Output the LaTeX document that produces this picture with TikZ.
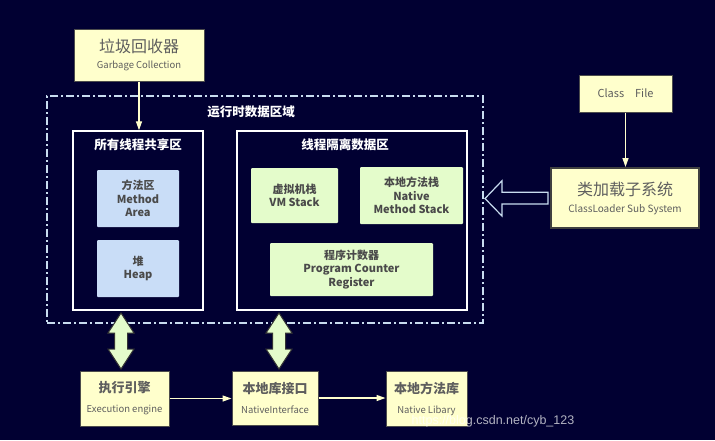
\documentclass[tikz,border=0pt]{standalone}
\usepackage{fontspec}
\setmainfont{Noto Sans CJK SC}
\newfontfamily\wmfont{Liberation Sans}
\usetikzlibrary{arrows.meta,calc}
\definecolor{bg}{RGB}{1,0,50}
\definecolor{yfill}{HTML}{FFFFCC}
\definecolor{bfill}{HTML}{C9DDF7}
\definecolor{gfill}{HTML}{E4FCCB}
\definecolor{txtgray}{HTML}{5E5E5E}
\definecolor{dkgray}{HTML}{4A4A4A}
\definecolor{dashblue}{HTML}{C8DCF0}
\definecolor{lineyel}{HTML}{FFFFCC}
\newcommand\dblvarrow[1]{%
  \draw[dblarrow] (#1) -- ++(13,20) -- ++(-6.5,0) -- ++(0,16) -- ++(6.5,0)
    -- ++(-13,20) -- ++(-13,-20) -- ++(6.5,0) -- ++(0,-16) -- ++(-6.5,0) -- cycle;}
\begin{document}
\begin{tikzpicture}[x=1pt,y=-1pt,
  ybox/.style={draw=black!70, line width=1pt, fill=yfill, inner sep=0pt, align=center, text=txtgray},
  region/.style={draw=white, line width=1.4pt, inner sep=0pt},
  bbox/.style={fill=bfill, rounded corners=1pt, inner sep=0pt, align=center, text=dkgray,
    font=\bfseries\fontsize{11}{13.5}\selectfont},
  gbox/.style={bbox, fill=gfill},
  rtitle/.style={text=white, font=\bfseries\fontsize{12.5}{14}\selectfont, inner sep=0pt},
  conn/.style={draw=lineyel, line width=1.3pt, -{Triangle[length=9pt,width=6pt,fill=lineyel]}},
  dblarrow/.style={fill=gfill, draw=black!80, line width=1pt},
  hollow/.style={fill=bg, draw=dashblue, line width=1.2pt, line join=miter},
]
\fill[bg] (0,0) rectangle (715,440);
\useasboundingbox (0,0) rectangle (715,440);

% runtime data area (dash-dot)
\node[draw=dashblue, line width=1.4pt, dash pattern=on 8pt off 3pt on 2pt off 3pt,
  minimum width=436pt, minimum height=227pt, inner sep=0pt] (rt) at (265,209.5) {};
\node[rtitle] (rttitle) at (251,112) {运行时数据区域};

% garbage collection
\node[ybox, minimum width=130pt, minimum height=52pt] (gc) at (139,55)
  {{\fontsize{16}{19}\selectfont 垃圾回收器}\\[4pt]{\fontsize{9.5}{11}\selectfont Garbage Collection}};

% shared area
\node[region, minimum width=130pt, minimum height=179pt] (shared) at (138,220.5) {};
\node[rtitle] (sharedtitle) at (138,145) {所有线程共享区};
\node[bbox, minimum width=82pt, minimum height=57pt] (method) at (138,198.5) {方法区\\Method\\Area};
\node[bbox, minimum width=82pt, minimum height=57pt] (heap) at (138,268.5) {堆\\Heap};

% isolated area
\node[region, minimum width=230pt, minimum height=179pt] (iso) at (352,220.5) {};
\node[rtitle] (isotitle) at (345,145) {线程隔离数据区};
\node[gbox, minimum width=87pt, minimum height=55pt] (vm) at (294.5,195.5) {虚拟机栈\\VM Stack};
\node[gbox, minimum width=103pt, minimum height=57pt] (nms) at (411.5,195.5) {本地方法栈\\Native\\Method Stack};
\node[gbox, minimum width=163pt, minimum height=53pt] (pc) at (351.5,269.5) {程序计数器\\Program Counter\\Register};

% class file / class loader
\node[ybox, minimum width=93pt, minimum height=37pt, font=\fontsize{11}{13}\selectfont] (cf) at (625.5,93.5) {Class\quad File};
\node[ybox, draw=black!75, line width=2pt, minimum width=148pt, minimum height=60pt] (cl) at (625,198)
  {{\fontsize{16}{19}\selectfont 类加载子系统}\\[5pt]{\fontsize{10}{12}\selectfont ClassLoader Sub System}};

% bottom boxes
\node[ybox, minimum width=89pt, minimum height=55pt] (exec) at (124.5,398.5)
  {{\bfseries\fontsize{13}{15}\selectfont 执行引擎}\\[8pt]{\fontsize{9.5}{11}\selectfont Execution engine}};
\node[ybox, minimum width=86pt, minimum height=54pt] (ni) at (275,398)
  {{\bfseries\fontsize{13}{15}\selectfont 本地库接口}\\[8pt]{\fontsize{9.5}{11}\selectfont NativeInterface}};
\node[ybox, minimum width=81pt, minimum height=55pt] (nl) at (426.5,398.5)
  {{\bfseries\fontsize{13}{15}\selectfont 本地方法库}\\[8pt]{\fontsize{9.5}{11}\selectfont Native Libary}};

% connectors
\draw[conn] (gc.south) -- (gc.south |- shared.north);
\draw[conn] (cf.south) -- (cf.south |- cl.north);
\draw[conn] (exec.east) -- (exec.east -| ni.west);
\draw[conn] (ni.east) -- (ni.east -| nl.west);

% double arrows
\coordinate (da1) at (121,313);
\coordinate (da2) at (279,313);
\dblvarrow{da1}
\dblvarrow{da2}

% hollow arrow from class loader
\coordinate (hstart) at ($(cl.west)+(-2,0)$);
\draw[hollow] ($(hstart)+(0,-5.75)$) -- ++(-46,0) -- ++(0,-11.5) -- ($(hstart)+(-63,0.5)$)
  -- ($(hstart)+(-46,18)$) -- ++(0,-12) -- ($(hstart)+(0,6)$) -- cycle;

% watermark
\node[text=white, opacity=0.7, font=\wmfont\fontsize{12.5}{14}\selectfont, inner sep=0pt] (wm) at (493,421) {https://blog.csdn.net/cyb\_123};
\end{tikzpicture}
\end{document}
